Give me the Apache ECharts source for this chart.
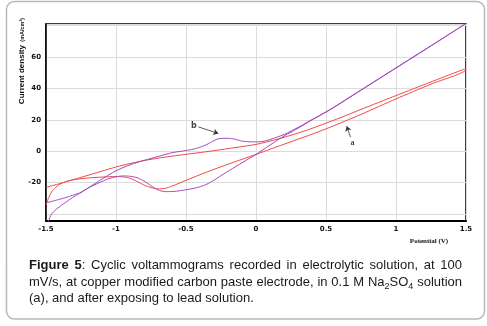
<!DOCTYPE html>
<html>
<head>
<meta charset="utf-8">
<script src="https://cdn.jsdelivr.net/npm/echarts@6/dist/echarts.min.js"></script>
<style>
  html, body { margin:0; padding:0; background:#fff; }
  #wrap { position:relative; width:487px; height:326px; }
  #chart { position:absolute; left:0; top:0; width:487px; height:326px; }
  #cap { position:absolute; left:29px; top:257px; width:433px; color:#1a1a1a;
         font-family:'Liberation Sans', Arial, sans-serif; font-size:13px; line-height:16.5px; }
  #cap .j { text-align:justify; text-align-last:justify; white-space:nowrap; }
  #cap .l { text-align:left; white-space:nowrap; }
  #cap sub { font-size:9px; line-height:0; vertical-align:-3px; }
</style>
</head>
<body>
<div id="wrap">
  <div id="chart"></div>
  <div id="cap">
    <div class="j"><b>Figure 5</b>: Cyclic voltammograms recorded in electrolytic solution, at 100</div>
    <div class="j">mV/s, at copper modified carbon paste electrode, in 0.1 M Na<sub>2</sub>SO<sub>4</sub> solution</div>
    <div class="l">(a), and after exposing to lead solution.</div>
  </div>
</div>
<script>
// ---- tick labels ----
const xTickLabels = ['-1.5', '-1', '-0.5', '0', '0.5', '1', '1.5'];
const yTickLabels = [-20, 0, 20, 40, 60];

// ---- curve a (red): lower branch left->right, upper branch right->left ----
const redLower = [
  [-1.5,-34.3],[-1.48,-29.5],[-1.46,-26],[-1.43,-23],[-1.4,-21],[-1.35,-19.2],[-1.3,-18.2],
  [-1.2,-17.1],[-1.1,-16.5],[-1.0,-16.2],[-0.95,-16.4],[-0.9,-17.3],[-0.85,-19.3],[-0.8,-21.6],
  [-0.75,-23.2],[-0.7,-24],[-0.65,-23.7],[-0.6,-22.3],[-0.5,-18.6],[-0.4,-15],[-0.3,-11.6],
  [-0.2,-8.3],[-0.1,-5.2],[0,-2.1],[0.1,1.2],[0.2,4.4],[0.3,7.6],[0.4,10.8],[0.5,14.2],
  [0.6,17.8],[0.75,23.4],[1.0,33.3],[1.25,42.7],[1.5,52.2]
];
const redUpper = [
  [1.5,52.7],[1.25,44.1],[1.0,35.4],[0.75,26.6],[0.6,21.2],[0.5,17.8],[0.4,14.5],[0.3,11.5],
  [0.2,8.8],[0.1,6.4],[0,4.3],[-0.1,2.9],[-0.2,1.6],[-0.3,0.3],[-0.4,-0.9],[-0.5,-2.0],
  [-0.6,-3.2],[-0.7,-4.5],[-0.8,-6],[-0.9,-7.9],[-1.0,-10.1],[-1.1,-12.7],[-1.2,-15.4],
  [-1.3,-18],[-1.4,-20.6],[-1.5,-23.1]
];

// ---- curve b (purple): forward branch left->right, reverse branch right->left ----
const purpleForward = [
  [-1.495,-47],[-1.483,-44.5],[-1.46,-40],[-1.43,-37.3],[-1.4,-35.2],[-1.35,-32],[-1.3,-29],
  [-1.25,-26.4],[-1.2,-23.5],[-1.1,-17.8],[-1.0,-12.5],[-0.9,-8.7],[-0.8,-5.9],[-0.7,-3.4],
  [-0.6,-1.0],[-0.5,0.4],[-0.45,1.2],[-0.4,2.5],[-0.35,4.3],[-0.3,6.7],[-0.27,7.9],[-0.2,8.2],
  [-0.15,7.6],[-0.1,6.4],[-0.05,6.0],[0,5.9],[0.05,6.2],[0.1,7.4],[0.2,10.6],[0.3,15.1],
  [0.4,20.1],[0.53,26.6],[0.75,39.0],[1.0,53.1],[1.25,67.2],[1.5,81.3]
];
const purpleReverse = [
  [1.5,81],[1.25,67],[1.0,52.9],[0.75,38.8],[0.53,26.4],[0.4,19.9],[0.3,14.6],[0.2,9.6],
  [0.1,3.9],[0,-2.1],[-0.1,-7.4],[-0.186,-12.1],[-0.25,-15.6],[-0.3,-18.5],[-0.35,-21.0],
  [-0.4,-22.7],[-0.45,-23.8],[-0.52,-24.9],[-0.58,-25.6],[-0.64,-25.8],[-0.68,-25.3],
  [-0.72,-23.8],[-0.76,-21.4],[-0.8,-19],[-0.85,-16.9],[-0.9,-16],[-0.95,-15.8],[-1.0,-16.3],
  [-1.05,-17.5],[-1.1,-19.3],[-1.15,-21.4],[-1.2,-23.6],[-1.26,-26.6],[-1.3,-27.8],
  [-1.35,-29.3],[-1.4,-30.6],[-1.45,-31.8],[-1.5,-33]
];

// ---- annotations (data coordinates) ----
const labelB = [-0.443, 16.1];
const arrowB = [[-0.4125, 15.5], [-0.269, 11.3]];
const labelA = [0.69, 5.5];
const arrowA = [[0.675, 8.9], [0.648, 15.9]];

const chart = echarts.init(document.getElementById('chart'), null, { renderer: 'canvas' });

const gridLine = { show: true, lineStyle: { color: '#dcdcdc', width: 1 } };
const tickFont = { color: '#111', fontSize: 7, fontWeight: 'bold', fontFamily: 'DejaVu Sans' };

chart.setOption({
  animation: false,
  backgroundColor: '#fff',
  grid: { left: 46, top: 24, right: 21, bottom: 105, show: true, borderColor: '#000', borderWidth: 1.5, containLabel: false },
  xAxis: {
    type: 'value', min: -1.5, max: 1.5, interval: 0.5,
    axisLine: { show: true, onZero: false, lineStyle: { color: '#000', width: 2 } },
    axisTick: { show: false },
    splitLine: gridLine,
    axisLabel: Object.assign({ margin: 5, formatter: v => xTickLabels[Math.round((v + 1.5) / 0.5)] || '' }, tickFont)
  },
  yAxis: {
    type: 'value', min: -44.5, max: 81, splitNumber: 6,
    axisLine: { show: true, onZero: false, lineStyle: { color: '#000', width: 1.5 } },
    axisTick: { show: false },
    splitLine: gridLine,
    axisLabel: Object.assign({ margin: 5, showMinLabel: true, showMaxLabel: true,
      formatter: v => (yTickLabels.indexOf(Math.round(v * 1000) / 1000) >= 0 ? String(v) : '') }, tickFont)
  },
  series: [
    {
      name: 'a', type: 'line', data: redLower.concat(redUpper), showSymbol: false, smooth: 0.25,
      lineStyle: { color: '#f24a4a', width: 1 }, silent: true
    },
    {
      name: 'b', type: 'line', data: purpleForward.concat(purpleReverse), showSymbol: false, smooth: 0.25,
      lineStyle: { color: '#a24cbc', width: 1 }, silent: true
    },
    {
      name: 'annot', type: 'scatter', symbolSize: 0, silent: true,
      data: [
        { value: labelB, name: 'b', label: { fontFamily: 'DejaVu Sans' } },
        { value: labelA, name: 'a', label: { fontFamily: 'Liberation Serif' } }
      ],
      label: { show: true, position: 'inside', formatter: '{b}', color: '#111', fontSize: 8, fontWeight: 'bold' },
      markLine: {
        silent: true, symbol: ['none', 'arrow'], symbolSize: 5, animation: false,
        lineStyle: { color: '#333', width: 0.8, type: 'solid' },
        label: { show: false },
        data: [
          [{ coord: arrowB[0] }, { coord: arrowB[1] }],
          [{ coord: arrowA[0] }, { coord: arrowA[1] }]
        ]
      }
    }
  ],
  graphic: [
    { type: 'rect', silent: true, z: -1,
      shape: { x: 6.5, y: 1.5, width: 478, height: 317.5, r: 8 },
      style: { fill: 'none', stroke: '#b8b8b8', lineWidth: 1.5 } },
    { type: 'text', silent: true, x: 22, y: 61, rotation: Math.PI / 2,
      style: {
        text: '{m|Current density} {s|(mA/cm²)}',
        align: 'center', verticalAlign: 'middle',
        rich: {
          m: { fontSize: 8, fontWeight: 'bold', fontFamily: 'Liberation Sans Narrow, Liberation Sans, sans-serif', fill: '#111' },
          s: { fontSize: 5.5, fontWeight: 'bold', fontFamily: 'Liberation Sans Narrow, Liberation Sans, sans-serif', fill: '#111' }
        }
      } },
    { type: 'text', silent: true, x: 429, y: 241,
      style: { text: 'Potential (V)', align: 'center', verticalAlign: 'middle',
        fontSize: 7, fontWeight: 'bold', fontFamily: 'Liberation Serif, serif', fill: '#111' } }
  ]
});
</script>
</body>
</html>
